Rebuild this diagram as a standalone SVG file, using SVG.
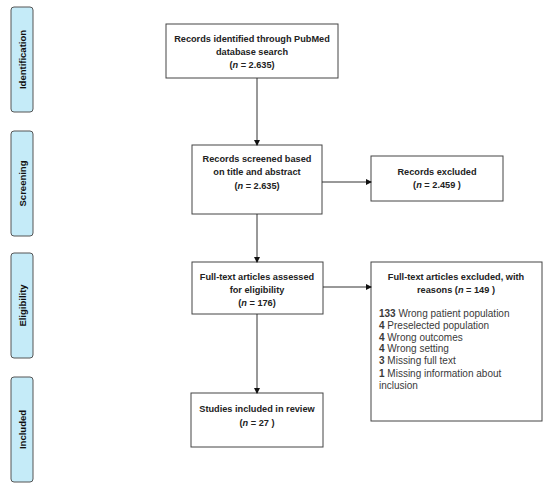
<svg xmlns="http://www.w3.org/2000/svg" width="550" height="488" viewBox="0 0 550 488">
<style>
.side{fill:#c5ebf8;stroke:#555;stroke-width:1}
.sl{font-family:"Liberation Sans",Arial,sans-serif;font-weight:bold;font-size:9.5px;fill:#111;text-anchor:middle}
.box{fill:#fff;stroke:#444;stroke-width:1}
.t{font-family:"Liberation Sans",Arial,sans-serif;font-weight:bold;font-size:9.2px;fill:#222;text-anchor:middle}
.l{font-family:"Liberation Sans",Arial,sans-serif;font-size:10px;fill:#3a3a3a}
.c{stroke:#333;stroke-width:1;fill:none}
</style>
<defs>
<marker id="ah" markerWidth="6" markerHeight="6" refX="5" refY="3" orient="auto" markerUnits="userSpaceOnUse">
<path d="M0,0 L6,3 L0,6 Z" fill="#111"/>
</marker>
</defs>
<g id="stage-identification">
<rect class="side" x="11" y="7" width="22" height="105" rx="3"/>
<text class="sl" transform="translate(25.5,59.5) rotate(-90)">Identification</text>
</g>
<g id="stage-screening">
<rect class="side" x="11" y="131" width="22" height="105" rx="3"/>
<text class="sl" transform="translate(25.5,183.5) rotate(-90)">Screening</text>
</g>
<g id="stage-eligibility">
<rect class="side" x="11" y="253" width="22" height="105" rx="3"/>
<text class="sl" transform="translate(25.5,305.5) rotate(-90)">Eligibility</text>
</g>
<g id="stage-included">
<rect class="side" x="11" y="377" width="22" height="105" rx="3"/>
<text class="sl" transform="translate(25.5,429.5) rotate(-90)">Included</text>
</g>
<g id="identified">
<rect class="box" x="166" y="24" width="172" height="54"/>
<text class="t" x="252" y="42">Records identified through PubMed</text>
<text class="t" x="252" y="55">database search</text>
<text class="t" x="252" y="68">(<tspan font-style="italic">n</tspan> = 2.635)</text>
</g>
<g id="screened">
<rect class="box" x="192" y="145" width="130" height="69"/>
<text class="t" x="257" y="162">Records screened based</text>
<text class="t" x="257" y="175">on title and abstract</text>
<text class="t" x="257" y="189">(<tspan font-style="italic">n</tspan> = 2.635)</text>
</g>
<g id="excluded-records">
<rect class="box" x="371" y="156" width="132" height="45"/>
<text class="t" x="437" y="175">Records excluded</text>
<text class="t" x="437" y="188">(<tspan font-style="italic">n</tspan> = 2.459 )</text>
</g>
<g id="eligibility">
<rect class="box" x="192" y="262" width="131" height="52"/>
<text class="t" x="257" y="280">Full-text articles assessed</text>
<text class="t" x="257" y="293">for eligibility</text>
<text class="t" x="257" y="306">(<tspan font-style="italic">n</tspan> = 176)</text>
</g>
<g id="excluded-fulltext">
<rect class="box" x="371" y="262" width="171" height="159"/>
<text class="t" x="456" y="280">Full-text articles excluded, with</text>
<text class="t" x="456" y="293">reasons (<tspan font-style="italic">n</tspan> = 149 )</text>
<text class="l" x="379" y="317"><tspan font-weight="bold">133</tspan> Wrong patient population</text>
<text class="l" x="379" y="329"><tspan font-weight="bold">4</tspan> Preselected population</text>
<text class="l" x="379" y="341"><tspan font-weight="bold">4</tspan> Wrong outcomes</text>
<text class="l" x="379" y="352"><tspan font-weight="bold">4</tspan> Wrong setting</text>
<text class="l" x="379" y="364"><tspan font-weight="bold">3</tspan> Missing full text</text>
<text class="l" x="379" y="377"><tspan font-weight="bold">1</tspan> Missing information about</text>
<text class="l" x="379" y="389">inclusion</text>
</g>
<g id="included">
<rect class="box" x="191" y="393" width="132" height="54"/>
<text class="t" x="257" y="412">Studies included in review</text>
<text class="t" x="257" y="426">(<tspan font-style="italic">n</tspan> =  27 )</text>
</g>
<g id="connectors">
<line class="c" x1="257" y1="78" x2="257" y2="145" marker-end="url(#ah)"/>
<line class="c" x1="322" y1="182" x2="371" y2="182" marker-end="url(#ah)"/>
<line class="c" x1="257" y1="214" x2="257" y2="262" marker-end="url(#ah)"/>
<line class="c" x1="323" y1="287" x2="371" y2="287" marker-end="url(#ah)"/>
<line class="c" x1="257" y1="314" x2="257" y2="393" marker-end="url(#ah)"/>
</g>
</svg>
